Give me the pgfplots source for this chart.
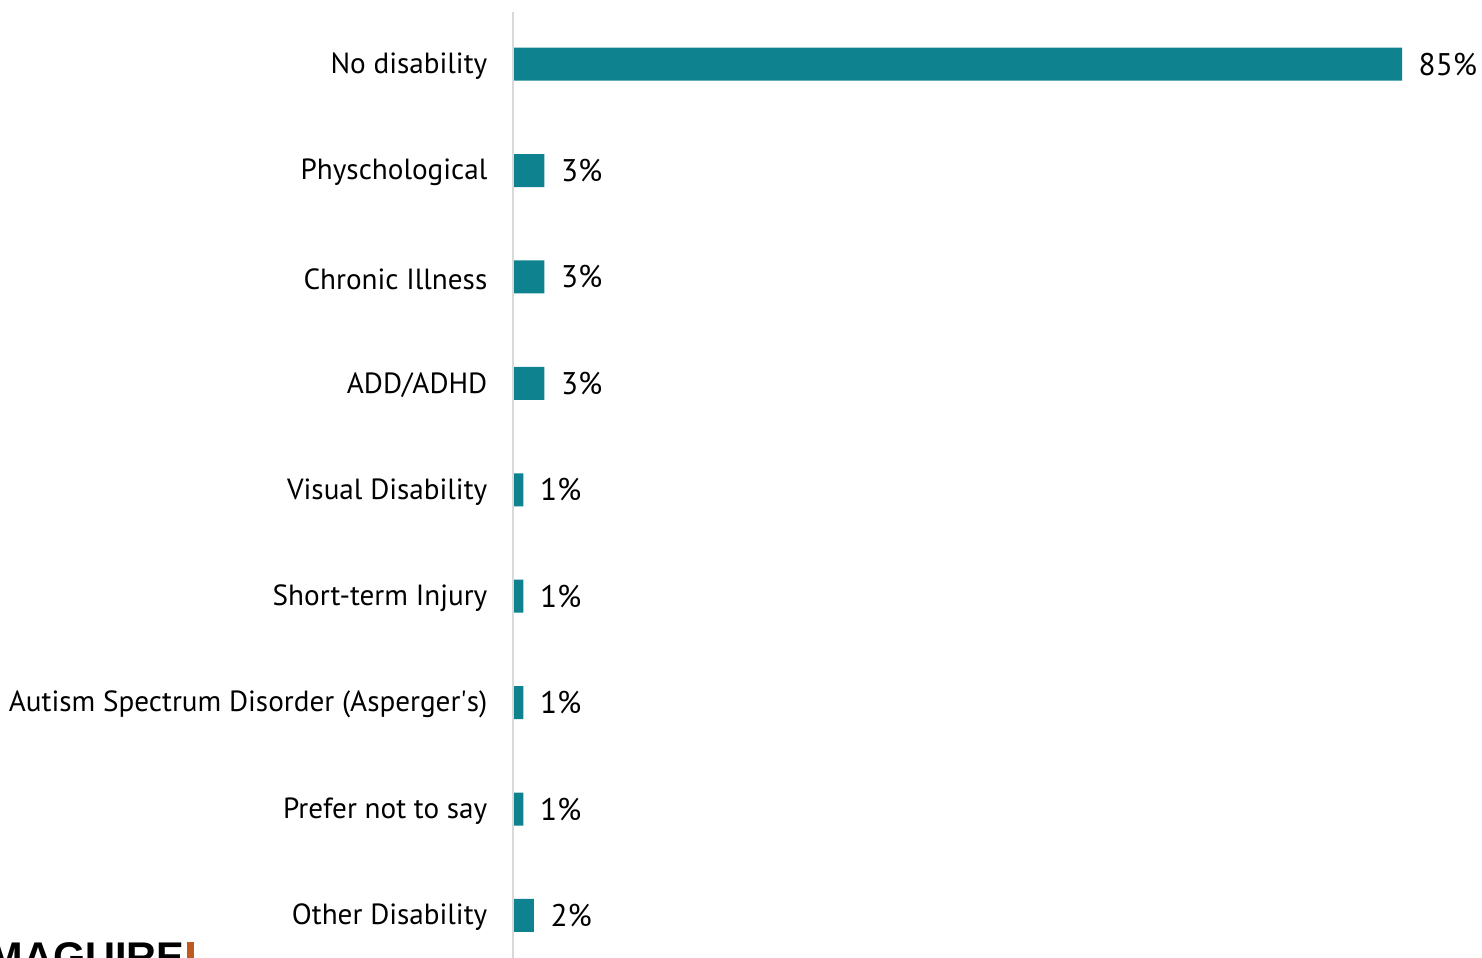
\documentclass[border=0pt]{standalone}
\usepackage{fontspec}
\setmainfont{PT Sans}
\newfontfamily\logofont{Liberation Sans}
\usepackage{pgfplots}
\pgfplotsset{compat=1.18}
\definecolor{barteal}{RGB}{14,131,143}
\definecolor{logoorange}{RGB}{190,90,30}

\begin{document}
\begin{tikzpicture}
\clip (0,0) rectangle (14.82cm,-9.57cm);
\begin{axis}[
    at={(5.13cm,-0.12cm)}, anchor=north west,
    scale only axis,
    width=8.89cm, height=9.46cm,
    xbar, bar width=0.33cm,
    xmin=0, xmax=85,
    ymin=-0.49, ymax=8.4,
    y dir=reverse,
    axis line style={draw=none},
    xtick=\empty,
    ytick={0,...,8},
    yticklabels={No disability, Physchological, Chronic Illness, ADD/ADHD,
                 Visual Disability, Short-term Injury,
                 Autism Spectrum Disorder (Asperger\textquotesingle s), Prefer not to say,
                 Other Disability},
    major tick length=0pt,
    yticklabel style={anchor=east, inner sep=0pt, xshift=-2.5mm, yshift=-0.2mm,
                      font=\fontsize{8.3}{10}\selectfont},
    /pgf/number format/assume math mode=true,
    nodes near coords={\pgfmathprintnumber{\pgfplotspointmeta}\%},
    point meta=x,
    nodes near coords style={anchor=west, inner sep=0pt, xshift=1.6mm,
                             font=\fontsize{8.9}{10}\selectfont},
    clip=false,
]
\addplot[fill=barteal, draw=none] coordinates {
    (85,0) (3,1) (3,2) (3,3) (1,4) (1,5) (1,6) (1,7) (2,8)};
\draw[black!15, line width=0.6pt] (axis cs:0,-0.49) -- (axis cs:0,8.4);
\end{axis}
\node[anchor=north west, inner sep=0pt, font=\logofont\bfseries\fontsize{11.8}{14}\selectfont]
    (logo) at (-0.12cm,-9.42cm) {MAGUIRE};
\fill[logoorange] ([xshift=0.2mm]logo.north east) rectangle ++(0.7mm,-3mm);
\end{tikzpicture}
\end{document}
